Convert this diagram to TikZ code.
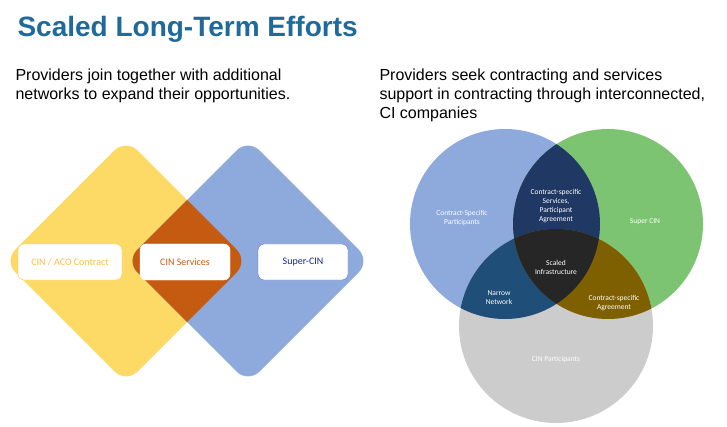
\documentclass[tikz,border=0pt]{standalone}
\usepackage{fontspec}
\setmainfont{Liberation Sans}
\newfontfamily\calib{Carlito}
\usepackage{tikz}
\usetikzlibrary{calc}
\usepackage{xcolor}
\definecolor{titleblue}{HTML}{1F6A9A}
\definecolor{dyellow}{HTML}{FDD966}
\definecolor{dblue}{HTML}{8EA9DB}
\definecolor{dorange}{HTML}{C55A11}
\definecolor{vgreen}{HTML}{7DC472}
\definecolor{vgray}{HTML}{CCCCCC}
\definecolor{vnavy}{HTML}{1F3864}
\definecolor{vsteel}{HTML}{1F4E79}
\definecolor{volive}{HTML}{7F6000}
\definecolor{vblack}{HTML}{262626}
\tikzset{
    lbox/.style={draw, rounded corners=6pt, fill=white, minimum width=104pt, minimum height=36pt, font=\calib\fontsize{10}{12}\selectfont},
    vtext/.style={text=white, align=center, font=\calib\fontsize{7.5}{9}\selectfont},
    head/.style={anchor=north west, align=left, font=\fontsize{16}{19}\selectfont}
}
\begin{document}
\begin{tikzpicture}[x=1pt, y=-1pt]
    \useasboundingbox (0, 0) rectangle (727, 427);

    \node[anchor=west, text=titleblue, font=\bfseries\fontsize{28}{32}\selectfont] (title) at (14, 29) {Scaled Long-Term Efforts};
    \node[head] (lhead) at (12, 65) {Providers join together with additional\\networks to expand their opportunities.};
    \node[head] (rhead) at (376, 65) {Providers seek contracting and services\\support in contracting through interconnected,\\CI companies};

    \coordinate (dy) at (126, 261);
    \coordinate (db) at (248, 261);
    \fill[dyellow, rounded corners=16pt] ($(dy)+(-122,0)$) -- ($(dy)+(0,-122)$) -- ($(dy)+(122,0)$) -- ($(dy)+(0,122)$) -- cycle;
    \fill[dblue, rounded corners=16pt] ($(db)+(-122,0)$) -- ($(db)+(0,-122)$) -- ($(db)+(122,0)$) -- ($(db)+(0,122)$) -- cycle;
    \begin{scope}
        \clip[rounded corners=16pt] ($(dy)+(-122,0)$) -- ($(dy)+(0,-122)$) -- ($(dy)+(122,0)$) -- ($(dy)+(0,122)$) -- cycle;
        \fill[dorange, rounded corners=16pt] ($(db)+(-122,0)$) -- ($(db)+(0,-122)$) -- ($(db)+(122,0)$) -- ($(db)+(0,122)$) -- cycle;
    \end{scope}
    \node[lbox, draw=dyellow!80!orange, text=dyellow!70!orange] (aco) at (70, 262) {CIN / ACO Contract};
    \node[lbox, draw=white, minimum width=90pt, text=dorange] (svc) at (185, 262) {CIN Services};
    \node[lbox, draw=dblue!60!blue, minimum width=90pt, text=vnavy!70!blue] (super) at (303, 262) {Super-CIN};

    \coordinate (cb) at (505, 224);
    \coordinate (cg) at (608, 224);
    \coordinate (cc) at (556, 326);
    \fill[dblue] (cb) circle (95);
    \fill[vgreen] (cg) circle (95);
    \fill[vgray] (cc) circle (97);
    \begin{scope}
        \clip (cb) circle (95);
        \fill[vnavy] (cg) circle (95);
        \fill[vsteel] (cc) circle (97);
    \end{scope}
    \begin{scope}
        \clip (cg) circle (95);
        \fill[volive] (cc) circle (97);
        \clip (cb) circle (95);
        \fill[vblack] (cc) circle (97);
    \end{scope}

    \node[vtext] (csp) at (462, 218) {Contract-Specific\\Participants};
    \node[vtext] (csv) at (556, 206) {Contract-specific\\Services,\\Participant\\Agreement};
    \node[vtext] (scin) at (645, 222) {Super CIN};
    \node[vtext] (infra) at (556, 267) {Scaled\\Infrastructure};
    \node[vtext] (narrow) at (499, 298) {Narrow\\Network};
    \node[vtext] (csa) at (614, 303) {Contract-specific\\Agreement};
    \node[vtext] (cinp) at (556, 360) {CIN Participants};
\end{tikzpicture}
\end{document}
